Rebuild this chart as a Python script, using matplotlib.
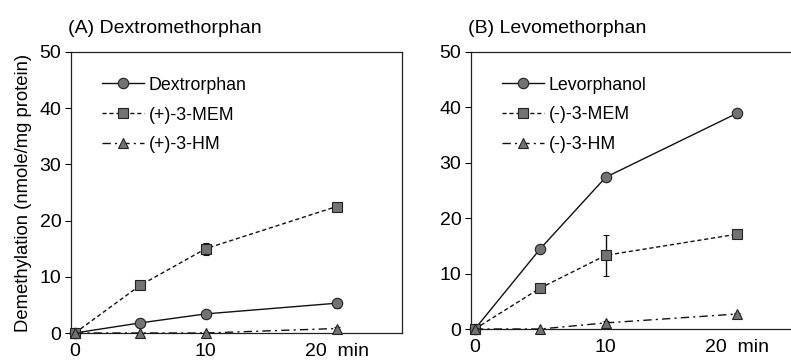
import matplotlib
matplotlib.use("Agg")
import matplotlib.pyplot as plt

plt.rcParams['font.family'] = ['Liberation Sans', 'DejaVu Sans']

times = [0, 5, 10, 20]

# Panel A: Dextromethorphan
dextrorphan = [0, 1.8, 3.4, 5.3]
dextrorphan_err = [0, 0.7, 0.6, 0.8]
p_mem = [0, 8.5, 15.0, 22.5]
p_mem_err = [0, 0.4, 1.1, 0.4]
p_hm = [0, 0, 0, 0.8]
p_hm_err = [0, 0, 0, 0.2]

# Panel B: Levomethorphan
levorphanol = [0, 14.5, 27.4, 38.9]
levorphanol_err = [0, 0.5, 0.6, 0.8]
m_mem = [0, 7.4, 13.3, 17.1]
m_mem_err = [0, 0.3, 3.7, 0.4]
m_hm = [0, 0, 1.1, 2.7]
m_hm_err = [0, 0, 0.3, 0.2]

xticks = [0, 10, 20]
xticklabels = ["0", "10", "20  min"]
yticks = [0, 10, 20, 30, 40, 50]

fig = plt.figure(figsize=(7.91, 3.60), dpi=100)
W, H = 791, 360

def make_ax(l, r, t, b):
    return fig.add_axes([l / W, 1 - b / H, (r - l) / W, (b - t) / H])

axA = make_ax(71, 402, 52, 333)
axB = make_ax(471, 802, 52, 329)

mfc = '#737373'
mec = '#222222'

def plot_panel(ax, series, title):
    styles = [('-', 'o'), ((0, (3, 2)), 's'), ((0, (6, 3, 1.5, 3)), '^')]
    for (y, e, lab), (ls, mk) in zip(series, styles):
        ax.errorbar(times, y, yerr=e, color='#111111', linestyle=ls, linewidth=1.0,
                     marker=mk, markersize=7.5, markerfacecolor=mfc, markeredgecolor=mec,
                     markeredgewidth=0.8, capsize=2.5, elinewidth=1.0, label=lab,
                     clip_on=False, zorder=3)
    ax.set_xlim(-0.3, 25)
    ax.set_ylim(0, 50)
    ax.set_yticks(yticks)
    ax.set_xticks(xticks)
    ax.set_xticklabels(xticklabels)
    ax.tick_params(axis='y', direction='out', length=4, width=0.8, labelsize=14, pad=3)
    ax.tick_params(axis='x', length=0, labelsize=14, pad=7)
    for s in ax.spines.values():
        s.set_linewidth(0.9)
        s.set_color('#222222')
    handles, labels = ax.get_legend_handles_labels()
    handles = [h[0] if hasattr(h, '__getitem__') else h for h in handles]
    ax.legend(handles, labels, loc='upper left', bbox_to_anchor=(0.06, 0.95), frameon=False,
              fontsize=12.8, handlelength=2.4, handletextpad=0.25, labelspacing=0.72,
              borderaxespad=0.2)
    ax.text(-0.01, 1.055, title, transform=ax.transAxes, fontsize=14, ha='left', va='bottom')

plot_panel(axA, [(dextrorphan, dextrorphan_err, 'Dextrorphan'),
                 (p_mem, p_mem_err, '(+)-3-MEM'),
                 (p_hm, p_hm_err, '(+)-3-HM')], '(A) Dextromethorphan')
plot_panel(axB, [(levorphanol, levorphanol_err, 'Levorphanol'),
                 (m_mem, m_mem_err, '(-)-3-MEM'),
                 (m_hm, m_hm_err, '(-)-3-HM')], '(B) Levomethorphan')

axA.set_ylabel('Demethylation (nmole/mg protein)', fontsize=13.3, labelpad=5)

fig.savefig('out.png', dpi=100)
